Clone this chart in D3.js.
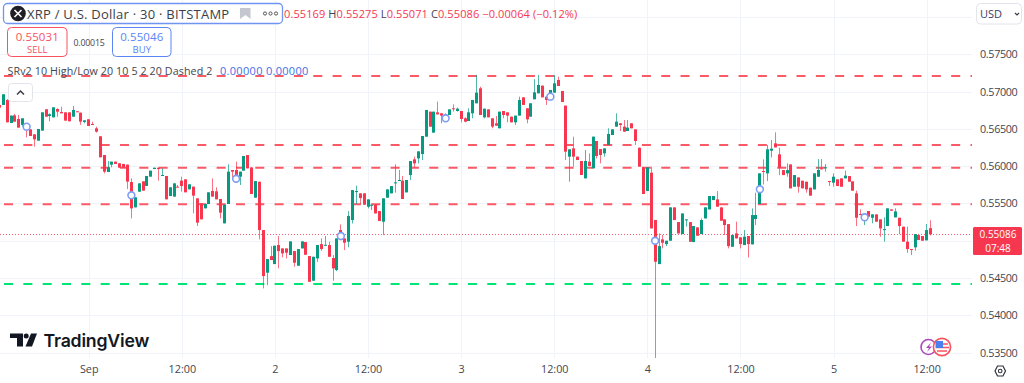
<!DOCTYPE html>
<html><head><meta charset="utf-8">
<script src="https://cdn.jsdelivr.net/npm/d3@7/dist/d3.min.js"></script>
<style>html,body{margin:0;padding:0;background:#fff;overflow:hidden}svg{display:block}text{font-family:"Open Sans",sans-serif}</style>
</head><body><svg id="c" width="1024" height="383"></svg>
<script>
// Prices are in units of 0.00001 USD (bar 23 = 1 Sep 00:00, 30-minute bars)
const priceUnit = 1e-5;
const opens = [56821,56821,56888,56579,56682,56633,56553,56575,56494,56427,
56342,56477,56763,56673,56655,56767,56727,56722,56722,56664,
56736,56718,56593,56629,56566,56508,56401,56150,55922,56021,
56061,56039,56030,56021,55788,55448,55658,55797,55735,55860,
55962,55980,55873,55869,55600,55592,55726,55806,55824,55690,
55726,55569,55502,55435,55493,55668,55663,55560,55234,55493,
55949,55949,55860,55940,56150,55984,55578,55792,55144,54572,
54795,54688,54943,54898,54898,54809,54862,54666,54898,54983,
54795,54465,54764,54956,54938,54943,54769,54608,55144,55032,
54988,55278,55654,55636,55636,55457,55475,55484,55399,55256,
55578,55636,55774,55801,55806,55649,55881,56092,56105,56163,
56396,56731,56450,56722,56709,56695,56686,56776,56740,56740,
56642,56606,56709,56843,57044,56655,56762,56642,56575,56508,
56740,56722,56664,56588,56678,56923,56776,56664,56897,56977,
57080,56932,56955,56986,57156,57008,56812,56128,56239,56128,
56070,55837,56061,55971,56338,56230,56172,56284,56418,56530,
56575,56530,56472,56575,56494,56248,55984,55667,55913,55278,
54688,55019,54956,55001,55448,55251,55090,55278,55251,54983,
55180,55090,55300,55421,55546,55555,55448,55287,55224,54920,
55099,55046,54943,55064,54952,55291,55493,55935,55904,56208,
56306,56159,55948,55904,56024,55725,55850,55805,55792,55712,
55689,55859,55971,55976,55801,55779,55824,55837,55837,55868,
55797,55636,55359,55301,55399,55309,55354,55287,55144,55198,
55421,55314,55309,55189,54988,54889,54912,55077,55064,55006,
55169];
const closes = [56785,56964,56588,56678,56597,56517,56642,56485,56405,56360,
56499,56722,56664,56696,56789,56731,56709,56611,56602,56754,
56731,56597,56615,56539,56561,56463,56119,55927,55985,56061,
56030,55980,55980,55793,55435,55583,55770,55672,55869,55940,
55980,55962,55882,55556,55717,55770,55717,55735,55650,55757,
55605,55243,55288,55493,55650,55592,55556,55377,55484,55927,
55927,55882,55927,56137,55971,55627,55801,55144,54527,54755,
54742,54934,54862,54831,54840,54992,54706,54889,54992,54813,
54451,54786,54943,54889,54947,54786,54630,55032,55010,54974,
55332,55680,55667,55573,55484,55555,55484,55367,55265,55569,
55689,55734,55783,55815,55560,55815,56069,56038,56199,56405,
56754,56530,56731,56695,56678,56655,56762,56767,56771,56633,
56597,56722,56888,56986,56686,56771,56655,56530,56543,56731,
56686,56678,56588,56678,56888,56821,56628,56843,56990,57089,
56923,56888,57022,57111,57075,56861,56195,56226,56128,56083,
55882,56070,56003,56396,56137,56150,56239,56432,56494,56597,
56552,56463,56517,56508,56338,55994,55627,55984,55166,54719,
54929,54974,55001,55448,55278,55099,55367,55287,54987,55198,
55068,55278,55448,55600,55600,55457,55269,55211,54929,55077,
55032,54956,55055,54956,55345,55345,55904,55926,56226,56235,
56252,55980,55881,55948,55703,55881,55725,55703,55689,55605,
55904,55949,55962,55985,55792,55859,55734,55725,55873,55792,
55672,55309,55345,55345,55323,55354,55256,55166,55157,55435,
55403,55394,55198,54988,54889,54876,55090,55010,55001,55144,
55086];
// Wick extremes for the bars whose wick shows past the body
const highWicks = {0:56834,2:56900,4:56700,5:56687,13:56709,15:56776,16:56798,19:56807,20:56740,24:56597,25:56530,28:56070,34:55837,42:55971,46:55748,47:55860,55:55837,56:55717,59:56025,61:56061,70:54929,72:55064,83:55032,84:55064,85:54988,86:54809,88:55220,90:55399,92:55739,102:56025,103:55949,104:55868,107:56127,113:56865,115:56709,117:56829,118:56785,120:56655,121:56776,123:57223,124:57066,128:56673,134:56932,138:57165,139:57223,143:57223,144:57200,148:56396,151:56217,152:56172,157:56508,159:56709,161:56619,162:56619,168:55993,170:55099,171:55077,181:55300,185:55667,190:55256,192:55144,194:55434,195:55645,197:56092,198:56284,199:56351,200:56454,201:56248,203:56038,211:56096,212:56096,213:56029,215:55904,218:55940,221:55672,222:55421,228:55314,231:55435,234:55189,239:55225,240:55275};
const lowWicks = {0:56776,6:56530,7:56387,9:56262,13:56602,15:56664,21:56553,22:56575,24:56553,25:56450,27:55904,29:55985,33:55694,34:55301,41:55806,47:55659,50:55368,51:55198,57:55301,60:55851,62:55748,67:55019,68:54362,69:54406,72:54630,73:54777,74:54764,76:54652,82:54719,83:54867,86:54465,87:54594,89:54876,90:54912,91:55233,92:55493,93:55493,95:55435,96:55412,99:55077,102:55645,106:55815,107:55984,108:56038,109:56083,114:56575,115:56610,117:56731,118:56731,119:56588,120:56588,122:56642,125:56642,127:56508,130:56642,131:56588,133:56552,136:56575,141:56821,146:56083,147:55792,148:55994,154:56105,155:56038,156:56128,160:56472,164:56284,169:53429,171:54898,172:54929,177:55189,187:55077,188:54898,191:54898,193:54777,195:55211,197:55756,198:55801,199:56118,201:55881,203:55859,206:55645,208:55645,212:55958,213:55926,214:55734,215:55725,221:55198,223:55211,225:55234,227:55055,228:54988,232:55090,234:54840,235:54809,236:54867,240:55071};

const levelsRed = [0.57209,0.56284,0.55980,0.55489];
const levelsGreen = [0.54421];
const ringBars = [7,34,61,88,115,142,169,196,223];
const ringPrices = [0.56530,0.55610,0.55832,0.55064,0.56642,0.56932,0.55001,0.55691,0.55315];
const yGrid = [0.58,0.575,0.57,0.565,0.56,0.555,0.55,0.545,0.54,0.535];
// 0.55000 sits behind the last-price label, so it shows no tick text
const yTicks = [0.575,0.57,0.565,0.56,0.555,0.545,0.54,0.535];
const xTickBars = [23,47,71,95,119,143,167,191,215,239];
const xTickLabels = ["Sep","12:00","2","12:00","3","12:00","4","12:00","5","12:00"];
const lastPrice = 0.55086;
const RED="#f7374f", GREEN="#089981", DASHRED="#fa5a66";

const svg = d3.select("#c");
const plotR = 972, plotB = 358;
const x = d3.scaleLinear().domain([23,239]).range([88.7,926.7]);
const y = d3.scaleLinear().domain([0.575,0.535]).range([54.3,352.7]);
const px = v => Math.round(v);

svg.append("defs").append("clipPath").attr("id","pc").append("rect").attr("width",plotR).attr("height",plotB);
const grid = svg.append("g").attr("stroke","#f0f3fa").attr("stroke-width",1);
grid.selectAll(".h").data(yGrid).join("line").attr("x1",0).attr("x2",plotR)
  .attr("y1",d=>px(y(d))+.5).attr("y2",d=>px(y(d))+.5);
grid.selectAll(".v").data(xTickBars).join("line").attr("y1",0).attr("y2",plotB)
  .attr("x1",d=>px(x(d))+.5).attr("x2",d=>px(x(d))+.5);

const plot = svg.append("g").attr("clip-path","url(#pc)");
// last price dotted line
plot.append("line").attr("x1",0).attr("x2",plotR).attr("y1",px(y(lastPrice))+.5).attr("y2",px(y(lastPrice))+.5)
  .attr("stroke",RED).attr("stroke-dasharray","1 2").attr("stroke-width",1).attr("opacity",.8);
// dashed levels
const lev = plot.append("g").attr("stroke-width",2).attr("stroke-dasharray","9 10.33");
lev.selectAll(".r").data(levelsRed).join("line").attr("stroke",DASHRED).attr("x1",4).attr("x2",plotR).attr("y1",d=>y(d)).attr("y2",d=>y(d));
lev.selectAll(".g").data(levelsGreen).join("line").attr("stroke","#00e676").attr("x1",4).attr("x2",plotR).attr("y1",d=>y(d)).attr("y2",d=>y(d));

const bars = d3.range(opens.length).map(i=>{
  const o=opens[i]*priceUnit,c=closes[i]*priceUnit;
  return {i,o,c,h:Math.max(o,c,(highWicks[i]||0)*priceUnit),l:Math.min(o,c,(lowWicks[i]||1e9)*priceUnit)};
});
const col = d=>d.c>=d.o?GREEN:RED;
plot.append("g").selectAll("line").data(bars).join("line")
  .attr("x1",d=>Math.floor(x(d.i))+.5).attr("x2",d=>Math.floor(x(d.i))+.5)
  .attr("y1",d=>y(d.h)).attr("y2",d=>y(d.l)).attr("stroke",col).attr("stroke-width",1).attr("opacity",.7);
plot.append("g").selectAll("rect").data(bars).join("rect")
  .attr("x",d=>Math.floor(x(d.i))-1).attr("width",3)
  .attr("y",d=>y(Math.max(d.o,d.c))).attr("height",d=>Math.max(1,Math.abs(y(d.o)-y(d.c)))).attr("fill",col);
plot.append("g").selectAll("circle").data(ringBars).join("circle")
  .attr("cx",d=>x(d)).attr("cy",(d,i)=>y(ringPrices[i])).attr("r",3.4)
  .attr("fill","#fff").attr("stroke","#7f9cf5").attr("stroke-width",1.6);

// Axes
const fmt = d3.format(".5f");
const yAxis = d3.axisRight(y).tickValues(yTicks).tickFormat(fmt).tickSize(0).tickPadding(0);
const ya = svg.append("g").attr("transform","translate(980,0)").call(yAxis);
const xAxis = d3.axisBottom(x).tickValues(xTickBars).tickFormat((d,i)=>xTickLabels[i]).tickSize(0).tickPadding(0);
const xa = svg.append("g").attr("transform","translate(0,365.5)").call(xAxis);
[ya,xa].forEach(g=>{g.select(".domain").remove();g.selectAll("text").attr("fill","#42454f").attr("font-family",'"Open Sans",sans-serif').attr("font-size",10.8);});
ya.selectAll("text").attr("letter-spacing","-.35");

// last price label
svg.append("rect").attr("x",973).attr("y",227).attr("width",49).attr("height",28).attr("rx",1.5).attr("fill",RED);
svg.append("text").attr("x",998).attr("y",238).attr("text-anchor","middle").attr("fill","#fff").attr("font-size",10).text(fmt(lastPrice));
svg.append("text").attr("x",998).attr("y",251.7).attr("text-anchor","middle").attr("fill","#fff").attr("font-size",10).text("07:48");

// Legend header
const hd = svg.append("g");
hd.append("rect").attr("x",3.5).attr("y",3.5).attr("width",279).attr("height",20).attr("rx",4).attr("fill","#fff").attr("stroke","#6f94f2").attr("stroke-width",1.3);
hd.append("circle").attr("cx",18).attr("cy",13.5).attr("r",7.8).attr("fill","#1e2026");
hd.append("path").attr("d","M14.5 10 L21.5 17 M21.5 10 L14.5 17").attr("stroke","#fff").attr("stroke-width",1.6);
hd.append("text").attr("x",27).attr("y",18.5).attr("fill","#3b3e48").attr("font-size",13).attr("letter-spacing",".24").text("XRP / U.S. Dollar · 30 · BITSTAMP");
hd.append("path").attr("d","M240 8 H250.5 V19 L245.5 15 L240 19 Z").attr("fill","#c4c7cf");
hd.selectAll(".dot").data([265,270.5,276]).join("circle").attr("cx",d=>d).attr("cy",13.5).attr("r",1.6).attr("fill","#fff").attr("stroke","#555").attr("stroke-width",1);

const ohlc = svg.append("text").attr("x",284).attr("y",17.5).attr("font-size",11).attr("letter-spacing",".1");
[["0.55169",RED],[" H","#42454f"],["0.55275",RED],[" L","#42454f"],["0.55071",RED],[" C","#42454f"],["0.55086",RED],[" −0.00064 (−0.12%)",RED]]
 .forEach(([t,c])=>ohlc.append("tspan").attr("fill",c).style("white-space","pre").text(t));

// Sell / buy
const box=(x0,w,c,a,b)=>{
  svg.append("rect").attr("x",x0).attr("y",27.5).attr("width",w).attr("height",29).attr("rx",4).attr("fill","#fff").attr("stroke",c).attr("stroke-width",1);
  svg.append("text").attr("x",x0+w/2).attr("y",40.5).attr("text-anchor","middle").attr("fill",c).attr("font-size",11.5).attr("letter-spacing",".1").text(a);
  svg.append("text").attr("x",x0+w/2).attr("y",52.5).attr("text-anchor","middle").attr("fill",c).attr("font-size",9.5).text(b);
};
box(7.5,59.5,"#f7525f","0.55031","SELL");
box(112.5,58.5,"#5b84f5","0.55046","BUY");
svg.append("text").attr("x",73.5).attr("y",46).attr("fill","#42454f").attr("font-size",8.8).attr("letter-spacing","-.2").text("0.00015");

// Indicator legend
svg.append("text").attr("x",7.5).attr("y",75).attr("fill","#42454f").attr("font-size",10.7).attr("letter-spacing",".1").text("SRv2 10 High/Low 20 10 5 2 20 Dashed 2");
svg.append("text").attr("x",220).attr("y",75).attr("fill","#3f6fe8").attr("font-size",11).attr("letter-spacing",".3").text("0.00000  0.00000");

// collapse button
svg.append("rect").attr("x",8.5).attr("y",83.5).attr("width",24).attr("height",18).attr("rx",3).attr("fill","#fff").attr("stroke","#e2e4ea").attr("stroke-width",1);
svg.append("path").attr("d","M17 94.5 L20.5 91 L24 94.5").attr("fill","none").attr("stroke","#3b3e48").attr("stroke-width",1.5);

// USD
svg.append("rect").attr("x",976.5).attr("y",3.5).attr("width",45).attr("height",20.5).attr("rx",4).attr("fill","#fff").attr("stroke","#e2e4ea");
svg.append("text").attr("x",980).attr("y",18).attr("fill","#3e3a66").attr("font-size",11).text("USD");
svg.append("path").attr("d","M1015 13 L1017 15 L1019 13").attr("fill","none").attr("stroke","#3b3e48").attr("stroke-width",1.2);

// TradingView logo
const tv = svg.append("g").attr("fill","#131722");
tv.append("path").attr("d","M10 333.5 H23 V346.5 H17 V338 H10 Z");
tv.append("circle").attr("cx",26.2).attr("cy",336).attr("r",2.5);
tv.append("path").attr("d","M31 333.5 H37 L32 346.5 H25.5 Z");
tv.append("text").attr("x",43.5).attr("y",346.5).style("font-family",'Inter,sans-serif').attr("font-weight",600).attr("font-size",17.7).attr("letter-spacing","-.2").text("TradingView");

// Event icons
svg.append("circle").attr("cx",928.5).attr("cy",347).attr("r",7.5).attr("fill","#fff").attr("stroke","#ab47bc").attr("stroke-width",1.6);
svg.append("path").attr("d","M931 342.5 L926 348 H929 L927 352 L932 346.5 H929 Z").attr("fill","#ab47bc");
svg.append("circle").attr("cx",942).attr("cy",347).attr("r",8.6).attr("fill","#fff").attr("stroke","#f7525f").attr("stroke-width",1.6);
svg.append("path").attr("d","M936 344 H948 M936 347.5 H949 M937 351 H947").attr("stroke","#f7525f").attr("stroke-width",1.5);
svg.append("rect").attr("x",935.5).attr("y",341).attr("width",7.5).attr("height",7).attr("fill","#4a7ff0");

// settings
svg.append("path").attr("d","M995 371 L997.5 366 H1003 L1005.5 371 L1003 376 H997.5 Z").attr("fill","none").attr("stroke","#30333d").attr("stroke-width",1.2);
svg.append("circle").attr("cx",1000.2).attr("cy",371).attr("r",1.8).attr("fill","none").attr("stroke","#30333d").attr("stroke-width",1.1);
</script></body></html>
